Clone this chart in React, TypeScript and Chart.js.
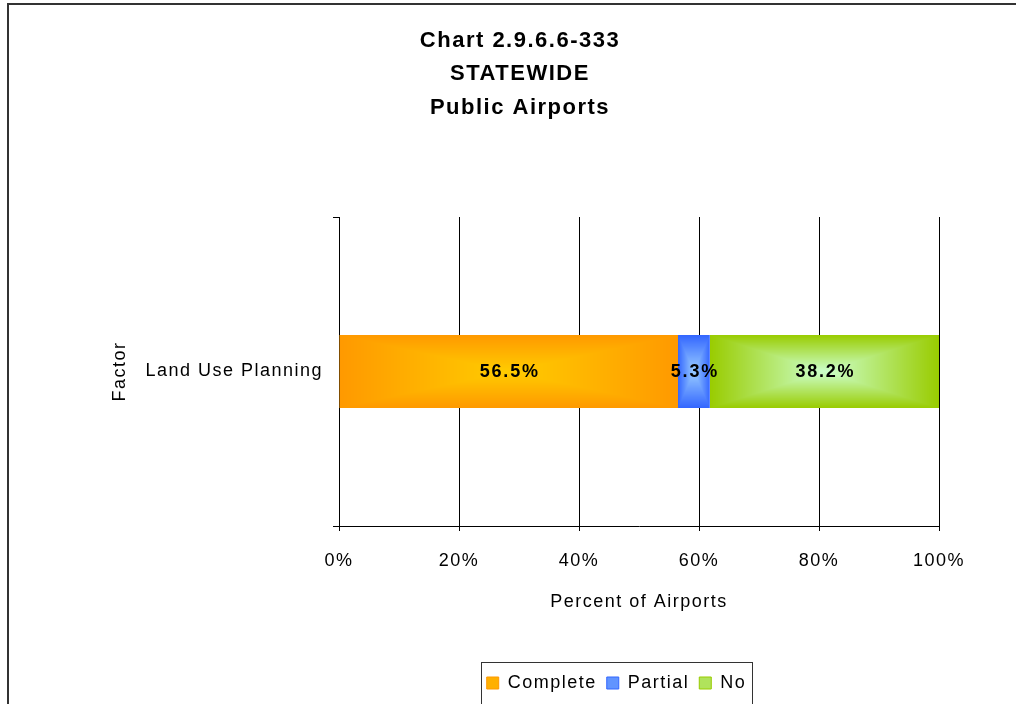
import React, { useEffect, useRef } from 'react';
import { Chart, registerables } from 'chart.js';

Chart.register(...registerables);

// ---------- data ----------
const categories = ['Land Use Planning'];
const seriesNames = ['Complete', 'Partial', 'No'];
const completeValues = [56.5];
const partialValues = [5.3];
const noValues = [38.2];
const xTickMin = 0;
const xTickMax = 100;
const xTickStep = 20;
const titleLines = ['Chart 2.9.6.6-333', 'STATEWIDE', 'Public Airports'];
const xAxisTitle = 'Percent of Airports';
const yAxisTitle = 'Factor';

const seriesValues = [completeValues, partialValues, noValues];

// ---------- styles ----------
const FONT = "'Liberation Sans', Arial, Helvetica, sans-serif";
const CAT_PCT = 1;
const BAR_PCT = 0.236;
const edgeColors = [
  [255, 153, 0],
  [51, 102, 255],
  [153, 204, 0],
];
const centerColors = [
  [255, 204, 0],
  [153, 204, 255],
  [204, 255, 204],
];
const rgb = (c: number[]) => `rgb(${c[0]},${c[1]},${c[2]})`;
const mix = (a: number[], b: number[], t: number) => a.map((v, i) => Math.round(v + (b[i] - v) * t));

function rectGradientPattern(
  ctx2d: CanvasRenderingContext2D,
  x0: number,
  y0: number,
  w: number,
  h: number,
  edge: number[],
  center: number[]
) {
  const W = Math.max(1, Math.round(w));
  const H = Math.max(1, Math.round(h));
  const off = document.createElement('canvas');
  off.width = W;
  off.height = H;
  const octx = off.getContext('2d')!;
  const img = octx.createImageData(W, H);
  const hw = W / 2;
  const hh = H / 2;
  for (let y = 0; y < H; y++) {
    for (let x = 0; x < W; x++) {
      const t = Math.min(1, Math.max(Math.abs(x + 0.5 - hw) / hw, Math.abs(y + 0.5 - hh) / hh));
      const k = (y * W + x) * 4;
      img.data[k] = center[0] + (edge[0] - center[0]) * t;
      img.data[k + 1] = center[1] + (edge[1] - center[1]) * t;
      img.data[k + 2] = center[2] + (edge[2] - center[2]) * t;
      img.data[k + 3] = 255;
    }
  }
  octx.putImageData(img, 0, 0);
  const pat = ctx2d.createPattern(off, 'no-repeat')!;
  pat.setTransform(new DOMMatrix([1, 0, 0, 1, Math.round(x0), Math.round(y0)]));
  return pat;
}

function makeFill(dsIndex: number) {
  return (context: any) => {
    const edge = edgeColors[dsIndex];
    if (context.type !== 'data') return rgb(edge);
    const chart = context.chart;
    const xs = chart.scales.x;
    const ys = chart.scales.y;
    if (!xs || !ys || !xs.width || !ys.height) return rgb(edge);
    const i = context.dataIndex;
    let start = 0;
    for (let k = 0; k < dsIndex; k++) start += seriesValues[k][i];
    const end = start + seriesValues[dsIndex][i];
    const x0 = xs.getPixelForValue(start);
    const x1 = xs.getPixelForValue(end);
    const yc = ys.getPixelForValue(i);
    const th = (ys.height / categories.length) * CAT_PCT * BAR_PCT;
    return rectGradientPattern(chart.ctx, x0, yc - th / 2, x1 - x0, th, edge, centerColors[dsIndex]);
  };
}

const LETTER_SPACING = '1.5px';

const chromePlugin = {
  id: 'chromePlugin',
  beforeUpdate(chart: any) {
    chart.ctx.letterSpacing = LETTER_SPACING;
  },
  afterLayout(chart: any) {
    const lg = chart.legend;
    if (lg) {
      const target = 616.5;
      const shift = target - (lg.left + lg.right) / 2;
      lg.left += shift;
      lg.right += shift;
    }
  },
  beforeDraw(chart: any) {
    const c = chart.ctx;
    c.letterSpacing = LETTER_SPACING;
    c.save();
    c.strokeStyle = '#333';
    c.lineWidth = 2;
    c.beginPath();
    c.moveTo(8, chart.height + 5);
    c.lineTo(8, 4);
    c.lineTo(chart.width + 5, 4);
    c.stroke();
    c.restore();
  },
  afterDatasetsDraw(chart: any) {
    const c = chart.ctx;
    c.save();
    c.font = `bold 18px ${FONT}`;
    c.letterSpacing = '1.8px';
    c.fillStyle = '#000';
    c.textAlign = 'center';
    c.textBaseline = 'middle';
    chart.data.datasets.forEach((_ds: any, i: number) => {
      const meta = chart.getDatasetMeta(i);
      meta.data.forEach((el: any, j: number) => {
        const p = el.getCenterPoint();
        c.fillText(`${seriesValues[i][j].toFixed(1)}%`, p.x + 1, p.y + 1);
      });
    });
    c.restore();
  },
  afterDraw(chart: any) {
    const lg = chart.legend;
    if (!lg || !lg.legendHitBoxes || !lg.legendHitBoxes.length) return;
    const hb = lg.legendHitBoxes;
    const left = Math.min(...hb.map((h: any) => h.left)) - 6;
    const right = Math.max(...hb.map((h: any) => h.left + h.width)) + 5;
    const top = lg.top - 2;
    const c = chart.ctx;
    c.save();
    c.strokeStyle = '#333';
    c.lineWidth = 1;
    c.strokeRect(Math.round(left) + 0.5, Math.round(top) + 0.5, Math.round(right - left), chart.height + 20 - top);
    c.restore();
  },
};

export default function App() {
  const canvasRef = useRef<HTMLCanvasElement | null>(null);

  useEffect(() => {
    document.body.style.margin = '0';
    const canvas = canvasRef.current!;
    Chart.defaults.font.family = FONT;
    Chart.defaults.font.size = 18;
    Chart.defaults.color = '#000';

    const chart = new Chart(canvas, {
      type: 'bar',
      data: {
        labels: categories,
        datasets: seriesNames.map((name, i) => ({
          label: name,
          data: seriesValues[i],
          backgroundColor: makeFill(i),
          borderWidth: 0,
          categoryPercentage: CAT_PCT,
          barPercentage: BAR_PCT,
        })),
      },
      options: {
        indexAxis: 'y',
        animation: false,
        responsive: false,
        maintainAspectRatio: false,
        layout: { padding: { left: 101, right: 77, top: 0, bottom: 2 } },
        scales: {
          x: {
            type: 'linear',
            stacked: true,
            min: xTickMin,
            max: xTickMax,
            position: 'bottom',
            afterFit: (s: any) => {
              s.height = 138;
            },
            ticks: {
              stepSize: xTickStep,
              padding: 19,
              color: '#000',
              font: { size: 18, family: FONT },
              callback: (v: any) => `${v}%`,
            },
            grid: { color: '#000', lineWidth: 1, tickLength: 5, drawTicks: true },
            border: { display: true, color: '#000', width: 1 },
            title: {
              display: true,
              text: xAxisTitle,
              color: '#000',
              font: { size: 18, family: FONT },
              padding: { top: 20, bottom: 51 },
            },
          },
          y: {
            type: 'category',
            stacked: true,
            offset: true,
            afterFit: (s: any) => {
              s.width = 238;
            },
            ticks: { padding: 10, color: '#000', font: { size: 18, family: FONT } },
            grid: { offset: true, drawOnChartArea: false, tickLength: 6, color: '#000', lineWidth: 1 },
            border: { display: true, color: '#000', width: 1 },
            title: {
              display: true,
              text: yAxisTitle,
              color: '#000',
              font: { size: 18, family: FONT },
              padding: { top: 8, bottom: 15 },
            },
          },
        },
        plugins: {
          title: {
            display: true,
            text: titleLines,
            color: '#000',
            font: { size: 22, weight: 'bold', family: FONT, lineHeight: 33.5 / 22 },
            padding: { top: 24, bottom: 92.5 },
          },
          legend: {
            display: true,
            position: 'bottom',
            labels: {
              boxWidth: 12,
              boxHeight: 12,
              padding: 10,
              color: '#000',
              font: { size: 18, family: FONT },
              generateLabels: () =>
                seriesNames.map((name, i) => ({
                  text: name,
                  fillStyle: rgb(mix(edgeColors[i], centerColors[i], 0.45)),
                  strokeStyle: rgb(edgeColors[i]),
                  lineWidth: 1,
                  hidden: false,
                  datasetIndex: i,
                  fontColor: '#000',
                })),
            },
          },
          tooltip: { enabled: false },
        },
      } as any,
      plugins: [chromePlugin],
    });

    return () => {
      chart.destroy();
    };
  }, []);

  return (
    <div style={{ position: 'absolute', left: 0, top: 0, width: 1016, height: 704, background: '#fff' }}>
      <canvas ref={canvasRef} width={1016} height={704} style={{ display: 'block', width: 1016, height: 704 }} />
    </div>
  );
}
